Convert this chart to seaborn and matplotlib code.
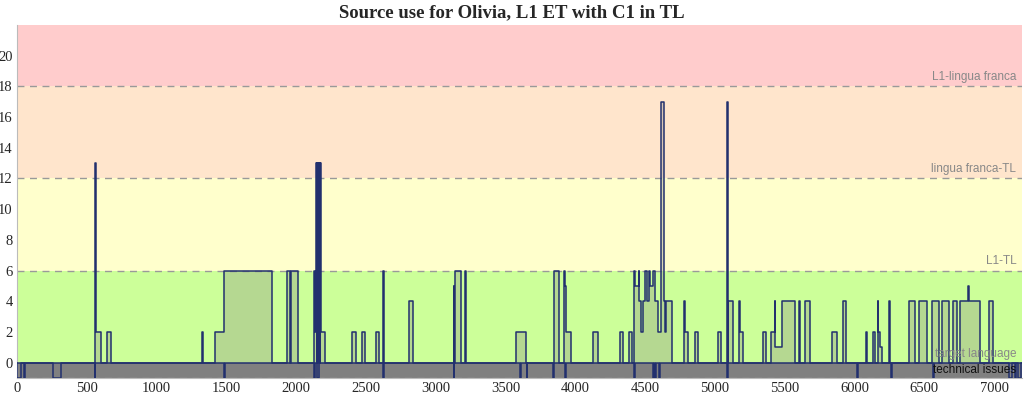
import numpy as np
import pandas as pd
import seaborn as sns
import matplotlib.pyplot as plt

# source-use segments: start, end, level
use_start = [560, 566, 643, 1328, 1419, 1484, 1933, 1962, 2128, 2133, 2143, 2152, 2160, 2170, 2178,
             2399, 2475, 2573, 2624, 2805, 2812, 3128, 3140, 3213, 3577, 3845, 3918, 3924, 3936,
             4124, 4318, 4387, 4423, 4430, 4453, 4458, 4470, 4488, 4500, 4512, 4530, 4537, 4560,
             4568, 4590, 4614, 4633, 4645, 4652, 4781, 4786, 4860, 5020, 5086, 5097, 5175, 5180,
             5348, 5405, 5430, 5434, 5482, 5601, 5649, 5836, 5921, 6080, 6132, 6168, 6172, 6180,
             6250, 6388, 6461, 6552, 6629, 6705, 6753, 6812, 6818, 6963]
use_end = [566, 600, 672, 1334, 1484, 1830, 1957, 2012, 2133, 2143, 2150, 2158, 2168, 2178, 2208,
           2428, 2495, 2595, 2629, 2812, 2838, 3133, 3181, 3219, 3649, 3885, 3924, 3936, 3971,
           4160, 4339, 4407, 4430, 4453, 4458, 4470, 4488, 4500, 4512, 4530, 4537, 4560, 4568,
           4590, 4614, 4633, 4645, 4652, 4690, 4786, 4810, 4877, 5045, 5094, 5130, 5180, 5200,
           5367, 5430, 5434, 5482, 5577, 5613, 5685, 5872, 5940, 6092, 6146, 6172, 6180, 6200,
           6256, 6433, 6521, 6609, 6676, 6736, 6812, 6818, 6898, 6994]
use_level = [13, 2, 2, 2, 2, 6, 6, 6, 6, 2, 13, 13, 13, 13, 2,
             2, 2, 2, 6, 2, 4, 5, 6, 6, 2, 6, 6, 5, 2,
             2, 2, 2, 6, 5, 6, 4, 2, 4, 6, 4, 6, 5, 6,
             4, 2, 17, 4, 2, 4, 4, 2, 2, 2, 17, 4, 4, 2,
             2, 2, 4, 1, 4, 4, 4, 2, 4, 2, 2, 4, 2, 1,
             4, 4, 4, 4, 4, 4, 4, 5, 4, 4]

# technical-issue segments (drawn at -1)
tech_start = [0, 50, 256, 556, 1482, 2128, 2148, 2624, 3128, 3604, 3652, 3843, 3926,
              4420, 4556, 4572, 4598, 5085, 6020, 6265, 6566, 7105, 7150, 7172]
tech_end = [30, 60, 313, 562, 1487, 2134, 2162, 2629, 3133, 3609, 3657, 3848, 3931,
            4425, 4562, 4578, 4604, 5097, 6025, 6272, 6572, 7130, 7160, 7195]

bands = [(-1, 0, "#808080"), (0, 6, "#ccff99"), (6, 12, "#ffffcc"),
         (12, 18, "#ffe5cc"), (18, 22, "#ffcccc")]
band_labels = ["technical issues", "target language", "L1-TL", "lingua franca-TL", "L1-lingua franca"]
XMAX = 7200


def step_series(starts, ends, levels):
    xs, ys = [0], [0]
    last_end = None
    for s, e, v in zip(starts, ends, levels):
        if last_end is not None and s == last_end:
            xs[-1] = s
            ys[-1] = v
        else:
            xs.append(s)
            ys.append(v)
        xs.append(e)
        ys.append(0)
        last_end = e
    xs.append(XMAX)
    ys.append(0)
    return pd.DataFrame({"time": xs, "level": ys})


use_df = step_series(use_start, use_end, use_level)
tech_df = step_series(tech_start, tech_end, [-1] * len(tech_start))

sns.set_theme(style="white")
plt.rcParams["font.family"] = ["Liberation Serif", "DejaVu Serif"]

fig = plt.figure(figsize=(10.24, 3.95), dpi=100)
ax = fig.add_axes([0.0166, 0.043, 0.9814, 0.894])

for lo, hi, col in bands:
    ax.axhspan(lo, hi, color=col, lw=0, zorder=0)
for y in [18, 12, 6, -1]:
    ax.axhline(y, color="#999999", ls=(0, (5, 4)), lw=1, zorder=1)

line_col = "#22306e"
ax.fill_between(use_df["time"], use_df["level"], 0, step="post", color="grey", alpha=0.3, lw=0, zorder=2)
sns.lineplot(data=use_df, x="time", y="level", drawstyle="steps-post", estimator=None, sort=False,
             color=line_col, lw=1.1, ax=ax, zorder=3)
sns.lineplot(data=tech_df, x="time", y="level", drawstyle="steps-post", estimator=None, sort=False,
             color=line_col, lw=1.1, ax=ax, zorder=3)

label_y = [-0.5, 0.55, 6.6, 12.6, 18.6]
label_col = ["#111111", "#888888", "#888888", "#888888", "#888888"]
for txt, yy, c in zip(band_labels, label_y, label_col):
    ax.text(7160, yy, txt, ha="right", va="center", fontsize=8.5, color=c,
            family=["Liberation Sans", "DejaVu Sans"], zorder=4)

ax.set_xlim(0, XMAX)
ax.set_ylim(-1, 22)
ax.set_xticks(np.arange(0, 7001, 500))
ax.set_yticks(np.arange(0, 21, 2))
ax.tick_params(labelsize=10.5, length=0, pad=3)
ax.set_xlabel("")
ax.set_ylabel("")
for side in ["top", "right"]:
    ax.spines[side].set_visible(False)
for side in ["left", "bottom"]:
    ax.spines[side].set_color("#bbbbbb")
    ax.spines[side].set_linewidth(0.8)

fig.suptitle("Source use for Olivia, L1 ET with C1 in TL", fontsize=13.5, fontweight="bold", y=0.99)

fig.savefig("out.png", dpi=100)
